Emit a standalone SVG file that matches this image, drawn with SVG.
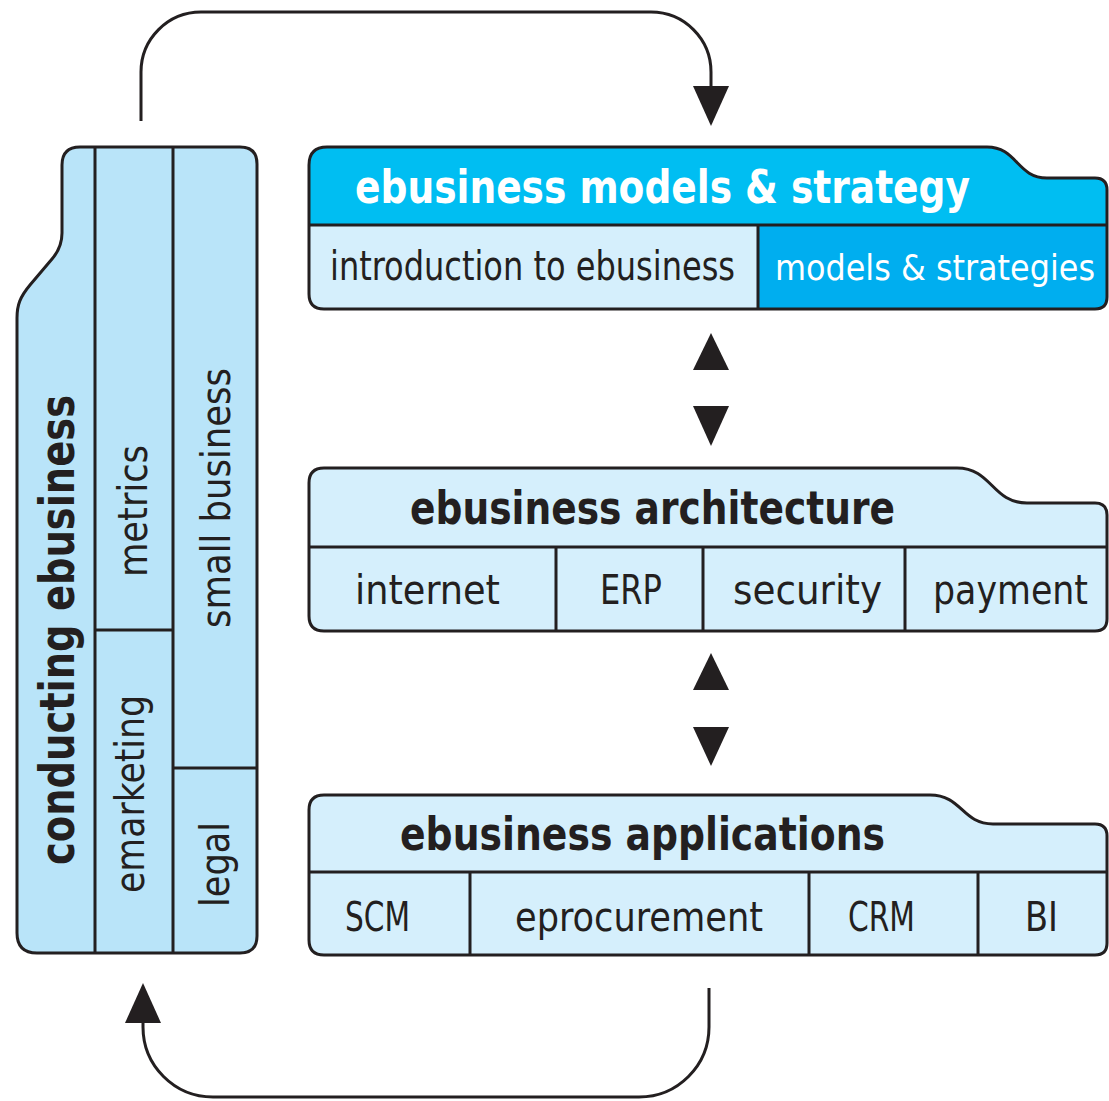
<svg xmlns="http://www.w3.org/2000/svg" width="1109" height="1101" viewBox="0 0 1109 1101">
<style>
.ol{stroke:#231F20;stroke-width:3;stroke-linejoin:round;fill:none}
.ln{stroke:#231F20;stroke-width:3;fill:none}
.t{font-family:'DejaVu Sans Condensed','DejaVu Sans','Liberation Sans',sans-serif;fill:#231F20}
.h{font-size:46px;font-weight:bold}
.s{font-size:40px}
.w{fill:#FFFFFF}
.ah{fill:#231F20}
</style>
<rect width="1109" height="1101" fill="#FFFFFF"/>
<g id="connectors">
<path class="ln" d="M141,121 V72 A60,60 0 0 1 201,12 H651 A60,60 0 0 1 711,72 V90"/>
<polygon class="ah" points="693,86 729,86 711,126"/>
<path class="ln" d="M709,988 V1027 A70,70 0 0 1 639,1097 H213 A70,70 0 0 1 143,1027 V1020"/>
<polygon class="ah" points="125,1023 161,1023 143,983"/>
<polygon class="ah" points="693,370 729,370 711,333"/>
<polygon class="ah" points="693,406 729,406 711,446"/>
<polygon class="ah" points="693,690 729,690 711,653"/>
<polygon class="ah" points="693,727 729,727 711,766"/>
</g>
<g id="conducting">
<path d="M62,165 Q62,147 80,147 H240 Q257,147 257,164 V936 Q257,953 240,953 H37 Q17,953 17,933 V318 C17,305 20,297 30,285 L52,259 C58,252 62,245 62,233 Z" fill="#B9E4F9"/>
<path class="ol" d="M62,165 Q62,147 80,147 H240 Q257,147 257,164 V936 Q257,953 240,953 H37 Q17,953 17,933 V318 C17,305 20,297 30,285 L52,259 C58,252 62,245 62,233 Z"/>
<path class="ln" d="M95,147 V953 M173,147 V953 M95,630 H173 M173,768 H257"/>
<text class="t h" transform="translate(74,865) rotate(-90)" style="font-size:48px" textLength="470" lengthAdjust="spacingAndGlyphs">conducting ebusiness</text>
<text class="t s" transform="translate(147,577) rotate(-90)" textLength="132" lengthAdjust="spacingAndGlyphs">metrics</text>
<text class="t s" transform="translate(144,893) rotate(-90)" textLength="198" lengthAdjust="spacingAndGlyphs">emarketing</text>
<text class="t s" transform="translate(230,628) rotate(-90)" textLength="260" lengthAdjust="spacingAndGlyphs">small business</text>
<text class="t s" transform="translate(229,907) rotate(-90)" textLength="85" lengthAdjust="spacingAndGlyphs">legal</text>
</g>
<g id="models">
<path d="M309,165 Q309,147 327,147 H987 C1017,147 1017,178 1047,178 H1095 Q1107,178 1107,190 V297 Q1107,309 1095,309 H324 Q309,309 309,294 Z" fill="#00BEF2"/>
<path d="M309,225 H758 V309 H324 Q309,309 309,294 Z" fill="#D5EFFC"/>
<path d="M758,225 H1107 V297 Q1107,309 1095,309 H758 Z" fill="#00AEEF"/>
<path class="ol" d="M309,165 Q309,147 327,147 H987 C1017,147 1017,178 1047,178 H1095 Q1107,178 1107,190 V297 Q1107,309 1095,309 H324 Q309,309 309,294 Z"/>
<path class="ln" d="M309,225 H1107 M758,225 V309"/>
<text class="t h w" x="355" y="203" textLength="615" lengthAdjust="spacingAndGlyphs">ebusiness models &amp; strategy</text>
<text class="t s" x="330" y="280" textLength="405" lengthAdjust="spacingAndGlyphs">introduction to ebusiness</text>
<text class="t s w" x="775" y="280" style="font-size:36px" textLength="320" lengthAdjust="spacingAndGlyphs">models &amp; strategies</text>
</g>
<g id="architecture">
<path d="M309,483 Q309,468 324,468 H957 C992,468 992,503 1027,503 H1095 Q1107,503 1107,515 V619 Q1107,631 1095,631 H324 Q309,631 309,616 Z" fill="#D5EFFC"/>
<path class="ol" d="M309,483 Q309,468 324,468 H957 C992,468 992,503 1027,503 H1095 Q1107,503 1107,515 V619 Q1107,631 1095,631 H324 Q309,631 309,616 Z"/>
<path class="ln" d="M309,547 H1107 M556,547 V631 M703,547 V631 M905,547 V631"/>
<text class="t h" x="410" y="524" textLength="485" lengthAdjust="spacingAndGlyphs">ebusiness architecture</text>
<text class="t s" x="355" y="604" textLength="145" lengthAdjust="spacingAndGlyphs">internet</text>
<text class="t s" x="600" y="604" textLength="62" lengthAdjust="spacingAndGlyphs">ERP</text>
<text class="t s" x="733" y="604" textLength="149" lengthAdjust="spacingAndGlyphs">security</text>
<text class="t s" x="933" y="604" textLength="155" lengthAdjust="spacingAndGlyphs">payment</text>
</g>
<g id="applications">
<path d="M309,810 Q309,795 324,795 H930 C962,795 962,824 993,824 H1095 Q1107,824 1107,836 V943 Q1107,955 1095,955 H324 Q309,955 309,940 Z" fill="#D5EFFC"/>
<path class="ol" d="M309,810 Q309,795 324,795 H930 C962,795 962,824 993,824 H1095 Q1107,824 1107,836 V943 Q1107,955 1095,955 H324 Q309,955 309,940 Z"/>
<path class="ln" d="M309,872 H1107 M470,872 V955 M809,872 V955 M978,872 V955"/>
<text class="t h" x="400" y="850" textLength="485" lengthAdjust="spacingAndGlyphs">ebusiness applications</text>
<text class="t s" x="345" y="931" textLength="65" lengthAdjust="spacingAndGlyphs">SCM</text>
<text class="t s" x="515" y="931" textLength="248" lengthAdjust="spacingAndGlyphs">eprocurement</text>
<text class="t s" x="848" y="931" textLength="67" lengthAdjust="spacingAndGlyphs">CRM</text>
<text class="t s" x="1025" y="931" textLength="33" lengthAdjust="spacingAndGlyphs">BI</text>
</g>
</svg>
